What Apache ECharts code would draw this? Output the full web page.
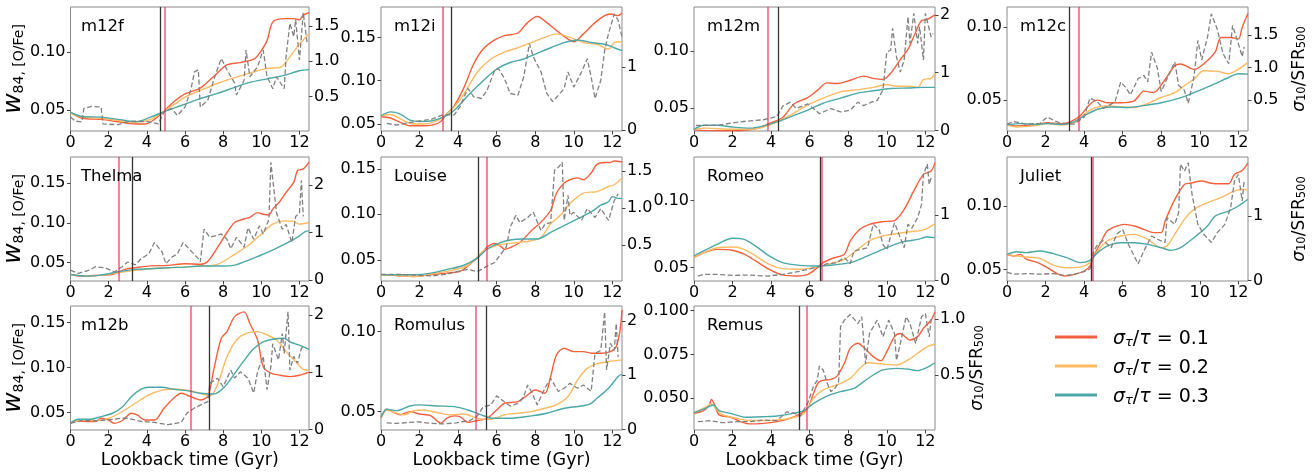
<!DOCTYPE html>
<html><head><meta charset="utf-8">
<script src="https://cdn.jsdelivr.net/npm/echarts@6/dist/echarts.min.js"></script>
<style>html,body{margin:0;padding:0;background:#fff}#c{width:1314px;height:475px}</style>
</head><body><div id="c"></div>
<script>
// ---------------- DATA ----------------
const panelNames = ['m12f','m12i','m12m','m12c','Thelma','Louise','Romeo','Juliet','m12b','Romulus','Remus'];
const xTicks = [0,2,4,6,8,10,12];
const legendLabels = ['σ_τ/τ = 0.1','σ_τ/τ = 0.2','σ_τ/τ = 0.3'];

// vertical marker lines (Gyr)
const tRed   = [4.95,3.2,3.8,3.7,2.55,5.5,6.65,4.45,6.3,4.9,5.85];
const tBlack = [4.7,3.65,4.35,3.25,3.25,5.05,6.55,4.35,7.25,5.45,5.45];

// axis ranges
const leftMin  = [0.032,0.042,0.0295,0.0285,0.027,0.0267,0.0401,0.0408,0.0307,0.0385,0.0319];
const leftMax  = [0.139,0.185,0.139,0.114,0.183,0.163,0.1322,0.1387,0.1685,0.116,0.1027];
const rightMin = [0.01,-0.015,-0.01,0.023,-0.02,0.009,-0.01,-0.005,-0.005,-0.012,0.009];
const rightMax = [1.77,1.95,2.14,1.936,2.59,1.69,1.89,1.91,2.16,2.28,1.116];

// tick labels
const leftTicks = [[0.05,0.10],[0.05,0.10,0.15],[0.05,0.10],[0.05,0.10],[0.05,0.10,0.15],[0.05,0.10,0.15],[0.05,0.10],[0.05,0.10],[0.05,0.10,0.15],[0.05,0.10],[0.050,0.075,0.100]];
const leftDec = [2,2,2,2,2,2,2,2,2,2,3];
const rightTicks = [[0.5,1.0,1.5],[0,1],[0,1,2],[0.5,1.0,1.5],[0,1,2],[0.5,1.0,1.5],[0,1],[0,1],[0,1,2],[0,1,2],[0.5,1.0]];
const rightDec = [1,0,0,1,0,1,0,0,0,0,1];

// ---- m12f ----
const m12f_s01 = [[0,0.048],[0.6,0.043],[1.6,0.042],[2.5,0.040],[3.4,0.038],[3.9,0.038],[4.4,0.042],[4.9,0.049],[5.4,0.057],[6.0,0.064],[6.8,0.069],[7.5,0.079],[8.2,0.089],[8.9,0.091],[9.6,0.094],[9.9,0.099],[10.3,0.110],[10.6,0.126],[11.2,0.129],[11.7,0.129],[12.0,0.128],[12.2,0.132],[12.5,0.134]];
const m12f_s02 = [[0,0.0475],[0.6,0.044],[1.6,0.043],[2.5,0.041],[3.4,0.0395],[4.2,0.042],[4.9,0.049],[5.4,0.0545],[6.1,0.062],[6.8,0.067],[7.7,0.073],[8.6,0.078],[9.4,0.082],[10.3,0.086],[11.0,0.087],[11.5,0.096],[12.0,0.107],[12.5,0.116]];
const m12f_s03 = [[0,0.048],[0.6,0.0445],[1.6,0.044],[2.5,0.042],[3.4,0.040],[4.2,0.044],[4.9,0.0486],[5.8,0.054],[6.8,0.060],[7.7,0.0645],[8.6,0.0696],[9.4,0.074],[10.3,0.077],[11.2,0.080],[12.0,0.084],[12.5,0.085]];
const m12f_sfr = [[0,0.21],[0.25,0.15],[0.6,0.14],[0.7,0.33],[1.1,0.36],[1.6,0.35],[1.7,0.11],[2.5,0.10],[3.0,0.14],[3.4,0.15],[4.1,0.14],[4.6,0.11],[4.9,0.28],[5.3,0.33],[5.6,0.23],[6.0,0.35],[6.3,0.59],[6.5,0.85],[6.7,0.88],[6.8,0.35],[7.2,0.45],[7.5,0.73],[7.9,1.04],[8.2,0.88],[8.6,0.69],[8.7,0.52],[9.1,0.73],[9.2,1.16],[9.4,0.78],[9.8,0.92],[10.1,1.16],[10.3,0.78],[10.6,0.61],[10.8,0.78],[11.2,0.61],[11.3,1.07],[11.5,1.54],[11.7,1.35],[11.8,1.59],[12.0,1.02],[12.2,1.69],[12.4,1.26]];

// ---- m12i ----
const m12i_s01 = [[0,0.0585],[0.5,0.057],[1.0,0.052],[1.5,0.048],[2.2,0.048],[2.7,0.049],[3.1,0.053],[3.4,0.0615],[3.8,0.071],[4.3,0.092],[4.8,0.119],[5.3,0.1365],[5.9,0.147],[6.4,0.152],[7.1,0.155],[7.6,0.167],[8.1,0.174],[8.6,0.167],[9.1,0.158],[9.7,0.148],[10.0,0.145],[10.5,0.154],[11.1,0.167],[11.6,0.175],[11.9,0.177],[12.3,0.175],[12.5,0.178]];
const m12i_s02 = [[0,0.0596],[0.5,0.061],[1.0,0.056],[1.5,0.051],[2.2,0.050],[2.7,0.052],[3.2,0.058],[3.8,0.070],[4.3,0.0846],[5.0,0.110],[5.7,0.125],[6.4,0.133],[7.1,0.138],[7.8,0.144],[8.5,0.150],[9.1,0.154],[9.8,0.150],[10.5,0.144],[11.2,0.142],[11.8,0.1365],[12.1,0.144],[12.5,0.145]];
const m12i_s03 = [[0,0.0596],[0.5,0.064],[1.0,0.0615],[1.5,0.0546],[2.0,0.053],[2.7,0.054],[3.4,0.0596],[3.9,0.068],[4.6,0.085],[5.3,0.100],[6.0,0.1135],[6.7,0.121],[7.4,0.125],[8.1,0.1315],[8.8,0.138],[9.5,0.144],[10.2,0.147],[10.9,0.144],[11.6,0.142],[12.1,0.138],[12.5,0.1346]];
const m12i_sfr = [[0.3,0.105],[0.8,0.08],[1.7,0.13],[2.6,0.17],[3.2,0.24],[3.8,0.24],[4.1,0.37],[4.5,0.66],[4.8,0.53],[5.2,0.50],[5.5,0.63],[5.9,0.95],[6.1,0.97],[6.4,0.82],[6.7,0.58],[7.1,0.55],[7.4,0.84],[7.7,1.37],[7.9,1.16],[8.3,0.92],[8.6,0.58],[8.9,0.45],[9.2,0.55],[9.5,0.66],[9.7,0.92],[10.0,0.68],[10.4,0.92],[10.7,1.13],[10.9,0.84],[11.1,0.50],[11.4,0.79],[11.6,1.26],[11.8,1.53],[12.1,1.84],[12.3,1.74],[12.5,1.47]];

// ---- m12m ----
const m12m_s01 = [[0,0.0305],[1.2,0.0297],[2.0,0.0297],[2.9,0.0305],[3.4,0.0325],[4.1,0.0375],[4.6,0.0415],[5.2,0.0535],[5.9,0.059],[6.4,0.0654],[6.9,0.072],[7.4,0.0714],[8.1,0.0743],[8.8,0.078],[9.3,0.076],[9.8,0.075],[10.2,0.0805],[10.7,0.0925],[11.1,0.1015],[11.4,0.113],[11.8,0.127],[12.1,0.128],[12.5,0.132]];
const m12m_s02 = [[0,0.031],[0.6,0.032],[2.0,0.031],[2.9,0.031],[3.6,0.033],[4.3,0.0375],[5.0,0.0435],[5.9,0.0525],[6.7,0.0585],[7.6,0.064],[8.5,0.066],[9.3,0.068],[10.0,0.0705],[10.5,0.069],[11.2,0.069],[11.6,0.068],[11.9,0.075],[12.3,0.076],[12.5,0.081]];
const m12m_s03 = [[0,0.031],[0.5,0.0346],[1.2,0.0346],[2.0,0.033],[2.9,0.032],[3.6,0.034],[4.3,0.0375],[5.0,0.042],[5.9,0.048],[6.7,0.054],[7.6,0.0585],[8.5,0.063],[9.3,0.065],[10.2,0.067],[11.1,0.0675],[11.9,0.068],[12.5,0.068]];
const m12m_sfr = [[0.1,0.087],[1.2,0.087],[2.0,0.13],[2.7,0.16],[3.6,0.185],[4.3,0.24],[4.6,0.42],[5.0,0.49],[5.3,0.38],[5.9,0.46],[6.2,0.38],[6.5,0.29],[7.1,0.38],[7.6,0.32],[8.1,0.35],[8.5,0.49],[8.8,0.43],[9.2,0.49],[9.5,0.52],[9.8,0.70],[10.0,1.36],[10.2,1.39],[10.3,1.77],[10.5,1.28],[10.7,1.01],[10.9,1.22],[11.1,1.97],[11.2,1.51],[11.4,2.03],[11.6,1.51],[11.7,1.80],[11.9,1.22],[12.0,2.03],[12.3,1.62],[12.4,1.68]];

// ---- m12c ----
const m12c_s01 = [[0,0.0327],[0.5,0.032],[1.4,0.0327],[2.1,0.0343],[2.8,0.0336],[3.3,0.035],[3.8,0.039],[4.3,0.047],[4.7,0.0498],[5.2,0.048],[5.9,0.048],[6.6,0.0493],[7.1,0.056],[7.6,0.055],[8.2,0.064],[8.7,0.0735],[9.0,0.0747],[9.7,0.071],[10.2,0.0747],[10.8,0.083],[11.1,0.093],[11.6,0.093],[12.0,0.092],[12.2,0.100],[12.5,0.1097]];
const m12c_s02 = [[0,0.0327],[0.5,0.0313],[1.4,0.032],[2.1,0.0336],[2.8,0.0327],[3.5,0.0343],[4.0,0.040],[4.5,0.0442],[5.2,0.0459],[5.9,0.045],[6.6,0.0447],[7.3,0.0475],[8.0,0.0516],[8.7,0.055],[9.2,0.0597],[9.7,0.0643],[10.2,0.070],[10.9,0.0696],[11.5,0.068],[12.0,0.071],[12.5,0.0758]];
const m12c_s03 = [[0,0.0327],[0.7,0.0336],[1.4,0.033],[2.1,0.0336],[2.8,0.033],[3.5,0.035],[4.0,0.039],[4.7,0.0435],[5.4,0.045],[6.3,0.0447],[7.1,0.046],[8.0,0.048],[8.9,0.051],[9.7,0.055],[10.6,0.060],[11.5,0.0654],[12.0,0.068],[12.5,0.0677]];
const m12c_sfr = [[0,0.13],[0.35,0.17],[1.0,0.13],[1.7,0.14],[2.1,0.24],[2.4,0.19],[2.8,0.14],[3.5,0.13],[4.0,0.24],[4.3,0.53],[4.7,0.47],[5.0,0.37],[5.6,0.47],[5.9,0.78],[6.2,0.68],[6.4,0.58],[6.8,0.83],[7.1,0.88],[7.3,0.78],[7.5,1.24],[7.8,0.99],[8.0,0.63],[8.3,0.83],[8.7,1.09],[8.9,0.73],[9.2,0.65],[9.4,0.45],[9.7,0.86],[9.9,1.42],[10.1,1.12],[10.4,1.47],[10.6,1.83],[10.9,1.60],[11.2,1.22],[11.5,1.06],[11.7,1.65],[12.0,1.37],[12.2,1.17],[12.3,1.32]];

// ---- Thelma ----
const thelma_s01 = [[0,0.0352],[0.6,0.0331],[1.6,0.0344],[2.2,0.035],[2.5,0.038],[2.9,0.042],[3.4,0.0437],[4.2,0.046],[5.1,0.0466],[6.0,0.0487],[6.8,0.048],[7.2,0.052],[7.7,0.069],[8.2,0.088],[8.6,0.1006],[9.1,0.105],[9.4,0.107],[9.8,0.113],[10.1,0.111],[10.4,0.110],[10.6,0.1175],[11.0,0.128],[11.3,0.1386],[11.7,0.151],[11.9,0.166],[12.2,0.168],[12.5,0.1765]];
const thelma_s02 = [[0,0.0352],[0.8,0.0331],[1.6,0.0344],[2.5,0.0373],[3.4,0.0403],[4.2,0.0424],[5.1,0.0437],[6.0,0.0445],[6.8,0.0458],[7.7,0.048],[8.6,0.0605],[9.4,0.0732],[10.1,0.088],[10.6,0.0985],[11.2,0.1027],[11.7,0.102],[12.0,0.0985],[12.5,0.1006]];
const thelma_s03 = [[0,0.0352],[0.8,0.0331],[1.6,0.0344],[2.5,0.0386],[3.4,0.0416],[4.2,0.0424],[5.1,0.0437],[6.0,0.0445],[6.8,0.0458],[7.7,0.0458],[8.6,0.047],[9.4,0.054],[10.3,0.0627],[11.2,0.0732],[11.7,0.0795],[12.0,0.0838],[12.3,0.0892],[12.5,0.090]];
const thelma_sfr = [[0,0.21],[0.4,0.14],[1.0,0.21],[1.3,0.28],[1.8,0.26],[2.3,0.17],[2.7,0.28],[3.0,0.38],[3.4,0.32],[3.7,0.45],[4.1,0.55],[4.4,0.79],[4.8,0.59],[5.0,0.34],[5.3,0.48],[5.6,0.55],[5.9,0.79],[6.3,0.62],[6.7,0.45],[6.8,0.38],[7.0,1.07],[7.3,0.90],[7.9,0.97],[8.2,0.86],[8.4,0.66],[8.7,0.90],[9.1,0.69],[9.3,1.10],[9.6,0.86],[9.9,1.14],[10.1,0.97],[10.4,1.28],[10.5,2.48],[10.8,1.41],[11.1,1.07],[11.3,1.17],[11.6,0.79],[11.8,1.34],[12.0,1.41],[12.1,2.10],[12.2,1.34]];

// ---- Louise ----
const louise_s01 = [[0,0.0336],[0.8,0.0328],[1.7,0.0317],[2.6,0.0336],[3.4,0.0354],[4.1,0.0373],[4.6,0.0448],[5.2,0.056],[5.5,0.064],[5.9,0.068],[6.2,0.065],[6.4,0.0616],[6.7,0.0634],[7.2,0.069],[7.8,0.082],[8.3,0.0914],[8.8,0.1045],[9.1,0.1232],[9.5,0.1343],[9.8,0.138],[10.2,0.140],[10.5,0.138],[10.9,0.1455],[11.2,0.1549],[11.6,0.157],[11.9,0.157],[12.1,0.1586],[12.5,0.1575]];
const louise_s02 = [[0,0.0336],[0.8,0.0328],[1.7,0.0317],[2.6,0.0343],[3.4,0.0373],[4.3,0.0418],[4.8,0.0485],[5.3,0.0597],[5.9,0.065],[6.4,0.0672],[7.1,0.069],[7.8,0.071],[8.3,0.0746],[8.8,0.0896],[9.3,0.099],[9.8,0.112],[10.5,0.1232],[11.2,0.125],[11.8,0.1306],[12.1,0.1325],[12.5,0.140]];
const louise_s03 = [[0,0.0336],[1.7,0.0336],[2.6,0.0354],[3.4,0.0392],[4.3,0.044],[5.0,0.0522],[5.5,0.0616],[6.0,0.0672],[6.7,0.0717],[7.4,0.0728],[8.1,0.0728],[8.8,0.0802],[9.5,0.0877],[10.2,0.0951],[10.9,0.1026],[11.4,0.110],[11.8,0.1138],[12.0,0.1194],[12.3,0.1175],[12.5,0.1175]];
const louise_sfr = [[0,0.10],[0.8,0.10],[1.7,0.09],[2.6,0.077],[3.4,0.10],[3.9,0.136],[4.5,0.168],[5.0,0.136],[5.5,0.21],[5.9,0.26],[6.2,0.37],[6.5,0.47],[6.7,0.74],[7.0,0.90],[7.2,0.80],[7.6,0.87],[7.9,0.94],[8.3,0.69],[8.5,0.78],[8.8,0.80],[9.0,1.51],[9.2,1.55],[9.4,1.62],[9.5,0.83],[9.7,1.17],[9.8,0.90],[10.0,0.94],[10.4,0.83],[10.7,0.99],[11.1,0.87],[11.4,0.99],[11.8,0.83],[12.1,1.10],[12.3,1.19]];

// ---- Romeo ----
const romeo_s01 = [[0,0.0574],[0.5,0.061],[1.2,0.0636],[2.0,0.0629],[2.6,0.060],[3.2,0.055],[3.9,0.0488],[4.6,0.0446],[5.3,0.0438],[5.9,0.045],[6.4,0.050],[6.7,0.0537],[7.2,0.057],[7.8,0.060],[8.1,0.0698],[8.6,0.0785],[9.1,0.0822],[9.8,0.0842],[10.4,0.085],[10.9,0.0933],[11.4,0.107],[11.9,0.1193],[12.3,0.1218],[12.5,0.128]];
const romeo_s02 = [[0,0.0574],[0.5,0.061],[1.2,0.0648],[2.0,0.0653],[2.6,0.0636],[3.2,0.0587],[3.9,0.0525],[4.6,0.0493],[5.5,0.0488],[6.4,0.0505],[7.1,0.053],[7.8,0.0562],[8.5,0.0636],[9.1,0.070],[9.8,0.0735],[10.5,0.0752],[11.2,0.0767],[11.8,0.0777],[12.1,0.0792],[12.5,0.0827]];
const romeo_s03 = [[0,0.0587],[0.5,0.0624],[1.2,0.0673],[2.0,0.0718],[2.6,0.071],[3.2,0.066],[3.9,0.0587],[4.6,0.0537],[5.5,0.0517],[6.4,0.0512],[7.2,0.052],[8.1,0.0537],[9.0,0.0587],[9.8,0.0636],[10.7,0.0686],[11.6,0.071],[12.1,0.0728],[12.5,0.0723]];
const romeo_sfr = [[0.2,0.066],[0.5,0.09],[1.2,0.09],[2.0,0.077],[2.9,0.08],[3.8,0.066],[4.6,0.09],[5.5,0.14],[6.4,0.20],[6.9,0.255],[7.4,0.27],[7.8,0.35],[8.1,0.255],[8.3,0.45],[8.6,0.47],[9.0,0.50],[9.3,0.86],[9.6,0.78],[9.8,0.55],[10.0,0.47],[10.4,0.88],[10.6,0.73],[10.9,0.50],[11.1,0.86],[11.3,0.80],[11.6,0.96],[11.8,1.16],[11.9,1.62],[12.1,1.78],[12.2,1.47],[12.3,1.57]];

// ---- Juliet ----
const juliet_s01 = [[0,0.0618],[0.35,0.0605],[0.7,0.0618],[1.0,0.058],[1.6,0.0553],[2.1,0.0513],[2.6,0.0466],[3.0,0.0447],[3.5,0.046],[4.0,0.0487],[4.3,0.0526],[4.5,0.0605],[4.9,0.0724],[5.2,0.0803],[5.7,0.0842],[6.1,0.0855],[6.6,0.0842],[7.1,0.0816],[7.6,0.079],[8.0,0.079],[8.2,0.088],[8.7,0.105],[9.2,0.117],[9.5,0.118],[10.1,0.1197],[10.6,0.118],[11.1,0.1176],[11.5,0.1176],[11.8,0.125],[12.2,0.128],[12.5,0.134]];
const juliet_s02 = [[0,0.0618],[0.5,0.0605],[1.0,0.0597],[1.7,0.0587],[2.4,0.0534],[3.1,0.0513],[3.8,0.0518],[4.3,0.0553],[4.7,0.0645],[5.2,0.0724],[5.9,0.0763],[6.6,0.0776],[7.3,0.0737],[8.0,0.0671],[8.3,0.0684],[8.7,0.0776],[9.2,0.0895],[9.7,0.0974],[10.4,0.1026],[11.1,0.1066],[11.6,0.1105],[12.2,0.1132],[12.5,0.1124]];
const juliet_s03 = [[0,0.0618],[0.5,0.0639],[1.0,0.0632],[1.7,0.0645],[2.4,0.0624],[3.1,0.0592],[3.8,0.0553],[4.3,0.0571],[4.7,0.0632],[5.2,0.0684],[5.9,0.071],[6.6,0.071],[7.3,0.0697],[8.0,0.0671],[8.5,0.065],[9.0,0.0671],[9.7,0.075],[10.4,0.0842],[10.8,0.0921],[11.5,0.096],[12.0,0.100],[12.5,0.1053]];
const juliet_sfr = [[0,0.13],[0.35,0.10],[1.0,0.11],[1.7,0.10],[2.4,0.11],[3.0,0.08],[3.5,0.10],[4.0,0.14],[4.3,0.18],[4.5,0.46],[4.7,0.56],[5.0,0.62],[5.4,0.51],[5.7,0.72],[6.0,0.79],[6.3,0.56],[6.5,0.44],[6.8,0.26],[7.1,0.46],[7.5,0.69],[7.8,0.64],[8.2,0.59],[8.3,0.97],[8.7,0.87],[8.9,1.05],[9.0,1.80],[9.2,1.69],[9.4,1.82],[9.6,1.33],[9.9,0.87],[10.2,0.72],[10.6,0.59],[10.9,0.74],[11.3,0.87],[11.6,1.13],[11.8,1.54],[12.0,1.64],[12.2,1.23],[12.3,1.54]];

// ---- m12b ----
const m12b_s01 = [[0,0.0381],[0.25,0.041],[0.8,0.040],[1.3,0.040],[1.6,0.0437],[2.0,0.0418],[2.3,0.0381],[2.7,0.041],[3.2,0.0493],[3.5,0.0474],[3.9,0.0418],[4.4,0.0418],[4.9,0.0548],[5.4,0.066],[5.8,0.0715],[6.1,0.0696],[6.5,0.066],[6.8,0.064],[7.2,0.0685],[7.5,0.097],[7.9,0.1326],[8.2,0.140],[8.6,0.1567],[9.1,0.162],[9.4,0.149],[9.8,0.131],[10.1,0.101],[10.5,0.094],[11.0,0.0915],[11.5,0.090],[12.0,0.0915],[12.5,0.095]];
const m12b_s02 = [[0,0.0381],[0.6,0.0418],[1.3,0.041],[2.0,0.0437],[2.7,0.051],[3.4,0.0604],[4.1,0.0696],[4.8,0.075],[5.4,0.076],[6.1,0.075],[6.8,0.0715],[7.3,0.0685],[7.7,0.081],[8.2,0.112],[8.7,0.1307],[9.2,0.138],[9.8,0.140],[10.3,0.1363],[10.8,0.1307],[11.3,0.1178],[11.8,0.1067],[12.2,0.098],[12.5,0.097]];
const m12b_s03 = [[0,0.0381],[0.4,0.0426],[1.0,0.0426],[1.6,0.0455],[2.2,0.0493],[2.7,0.056],[3.2,0.0678],[3.7,0.076],[4.1,0.0782],[4.8,0.0782],[5.4,0.076],[6.1,0.0745],[6.8,0.0715],[7.5,0.0707],[8.0,0.077],[8.6,0.0933],[9.1,0.108],[9.6,0.121],[10.1,0.1285],[10.6,0.1315],[11.2,0.1326],[11.5,0.1285],[12.0,0.125],[12.5,0.1204]];
const m12b_sfr = [[0,0.116],[0.6,0.157],[1.3,0.157],[2.0,0.174],[2.7,0.20],[3.0,0.20],[3.7,0.145],[4.4,0.128],[5.1,0.087],[5.8,0.128],[6.1,0.29],[6.5,0.38],[6.8,0.43],[7.2,0.49],[7.3,0.81],[7.7,0.90],[8.0,0.75],[8.4,1.04],[8.6,0.90],[8.9,1.01],[9.3,0.90],[9.6,0.64],[9.8,1.01],[10.1,1.28],[10.3,0.70],[10.5,1.10],[10.6,1.50],[10.9,1.22],[11.1,1.68],[11.2,1.33],[11.4,2.06],[11.5,1.04],[11.7,1.28],[11.9,1.16],[12.1,1.42],[12.2,1.45]];

// ---- Romulus ----
const romulus_s01 = [[0,0.0458],[0.3,0.0515],[0.6,0.050],[1.0,0.048],[1.5,0.050],[2.0,0.0485],[2.6,0.0473],[3.1,0.0427],[3.4,0.0458],[3.8,0.0473],[4.1,0.0469],[4.5,0.0433],[5.0,0.0444],[5.5,0.0458],[6.0,0.051],[6.4,0.0552],[7.1,0.0562],[7.6,0.0604],[8.0,0.0635],[8.5,0.0615],[8.8,0.0719],[9.1,0.0854],[9.5,0.0896],[10.0,0.0875],[10.5,0.0875],[10.9,0.0865],[11.4,0.0865],[11.9,0.0875],[12.2,0.0906],[12.4,0.101],[12.5,0.1135]];
const romulus_s02 = [[0,0.0458],[0.3,0.051],[0.6,0.050],[1.2,0.048],[1.7,0.0506],[2.2,0.051],[2.9,0.0494],[3.6,0.048],[4.3,0.0485],[5.0,0.0458],[5.7,0.0452],[6.4,0.048],[7.1,0.049],[7.8,0.050],[8.5,0.0521],[9.1,0.0542],[9.7,0.0594],[10.2,0.0698],[10.7,0.077],[11.2,0.0798],[11.8,0.0813],[12.5,0.0823]];
const romulus_s03 = [[0,0.0465],[0.3,0.0515],[0.8,0.0506],[1.5,0.0535],[2.0,0.0542],[2.9,0.0535],[3.8,0.0531],[4.5,0.051],[5.2,0.048],[5.8,0.0458],[6.7,0.0458],[7.8,0.0473],[8.6,0.049],[9.5,0.0521],[10.4,0.0535],[10.9,0.0552],[11.2,0.0583],[11.8,0.0646],[12.3,0.0719],[12.5,0.0735]];
const romulus_sfr = [[0.3,0.12],[0.8,0.11],[1.9,0.14],[2.6,0.11],[3.2,0.10],[3.9,0.12],[4.6,0.16],[5.0,0.25],[5.3,0.42],[5.7,0.45],[6.0,0.62],[6.4,0.51],[6.7,0.43],[7.1,0.48],[7.4,0.60],[7.6,0.82],[7.8,0.70],[8.1,0.45],[8.5,0.76],[8.8,0.94],[9.2,0.70],[9.5,0.76],[9.8,0.85],[10.2,0.76],[10.5,0.82],[10.9,0.70],[11.1,1.40],[11.4,1.46],[11.6,2.17],[11.7,1.10],[11.9,1.59],[12.1,1.46],[12.2,1.96],[12.3,1.34]];

// ---- Remus ----
const remus_s01 = [[0,0.0414],[0.5,0.043],[0.8,0.0462],[0.9,0.0494],[1.1,0.0456],[1.3,0.0405],[1.9,0.0392],[2.4,0.0367],[2.9,0.0354],[3.6,0.0357],[4.3,0.0367],[5.0,0.0386],[5.5,0.0411],[5.9,0.0443],[6.2,0.0529],[6.5,0.0595],[7.1,0.0608],[7.4,0.0624],[7.8,0.070],[8.1,0.0785],[8.5,0.0814],[8.8,0.0791],[9.3,0.0738],[9.7,0.0715],[10.0,0.0766],[10.4,0.0852],[10.7,0.087],[11.2,0.0833],[11.6,0.0852],[11.9,0.090],[12.3,0.0947],[12.5,0.0994]];
const remus_s02 = [[0,0.0418],[0.6,0.0449],[0.9,0.0468],[1.2,0.0433],[1.5,0.0405],[2.2,0.0386],[2.9,0.0373],[3.6,0.0373],[4.3,0.0376],[5.0,0.0386],[5.7,0.0414],[6.2,0.050],[6.7,0.0548],[7.4,0.0576],[8.1,0.0614],[8.6,0.0671],[9.0,0.0703],[9.8,0.0696],[10.5,0.069],[11.1,0.0719],[11.6,0.0757],[12.1,0.0795],[12.5,0.081]];
const remus_s03 = [[0,0.0418],[0.6,0.0443],[1.0,0.0462],[1.3,0.043],[1.9,0.0414],[2.7,0.0392],[3.6,0.0395],[4.3,0.0399],[5.0,0.0411],[5.7,0.043],[6.2,0.0471],[6.9,0.0513],[7.6,0.0538],[8.3,0.0557],[8.8,0.0595],[9.3,0.0633],[9.8,0.0662],[10.5,0.0671],[11.2,0.0665],[11.6,0.0658],[12.1,0.0677],[12.5,0.0703]];
const remus_sfr = [[0.2,0.083],[0.8,0.092],[1.5,0.074],[2.2,0.083],[2.9,0.083],[3.6,0.098],[4.3,0.092],[4.8,0.17],[5.2,0.16],[5.5,0.13],[5.9,0.25],[6.2,0.40],[6.4,0.455],[6.5,0.58],[6.7,0.545],[6.9,0.43],[7.1,0.35],[7.3,0.38],[7.5,0.43],[7.6,0.93],[7.8,0.99],[8.1,1.04],[8.5,0.96],[8.7,1.02],[8.9,0.60],[9.1,0.87],[9.5,0.99],[9.8,0.84],[10.1,0.99],[10.4,0.87],[10.5,0.63],[10.7,0.78],[11.0,1.02],[11.2,0.96],[11.5,0.78],[11.8,1.02],[12.0,1.05],[12.2,0.84],[12.3,1.00]];

const seriesData = [
  [m12f_s01,m12f_s02,m12f_s03,m12f_sfr],
  [m12i_s01,m12i_s02,m12i_s03,m12i_sfr],
  [m12m_s01,m12m_s02,m12m_s03,m12m_sfr],
  [m12c_s01,m12c_s02,m12c_s03,m12c_sfr],
  [thelma_s01,thelma_s02,thelma_s03,thelma_sfr],
  [louise_s01,louise_s02,louise_s03,louise_sfr],
  [romeo_s01,romeo_s02,romeo_s03,romeo_sfr],
  [juliet_s01,juliet_s02,juliet_s03,juliet_sfr],
  [m12b_s01,m12b_s02,m12b_s03,m12b_sfr],
  [romulus_s01,romulus_s02,romulus_s03,romulus_sfr],
  [remus_s01,remus_s02,remus_s03,remus_sfr]
];

// ---------------- STYLE / LAYOUT ----------------
const FONT = 'DejaVu Sans';
const lineColors = ['#f4603c','#fdbb63','#4ba8a6'];
const colLeft = [68,381,694,1007];
const rowTop = [7,157,306];
const W = 241, H = 124;
const frame = '#8a8a8a';

const grids = [], xAxes = [], yAxes = [], series = [], titles = [];
panelNames.forEach((nm, i) => {
  const r = Math.floor(i / 4), c = i % 4;
  grids.push({left: colLeft[c], top: rowTop[r], width: W, height: H, show: true, borderColor: frame, borderWidth: 1, backgroundColor: 'transparent'});
  titles.push({text: nm, left: colLeft[c] + 13, top: rowTop[r] + 11, padding: 0,
    textStyle: {fontFamily: FONT, fontSize: 16.5, fontWeight: 'normal', color: '#000'}});
  xAxes.push({
    type: 'value', gridIndex: i, min: 0, max: 12.5,
    axisLine: {show: false, onZero: false},
    axisTick: {show: true, length: 3.5, customValues: xTicks, lineStyle: {color: '#444'}},
    axisLabel: {customValues: xTicks, fontFamily: FONT, fontSize: 16, color: '#000', margin: 4},
    splitLine: {show: false},
    name: r === 2 ? 'Lookback time (Gyr)' : '',
    nameLocation: 'middle', nameGap: 21,
    nameTextStyle: {fontFamily: FONT, fontSize: 17.5, color: '#000'}
  });
  const leftName = (c === 0) ? '{w|w}{s|84, [O/Fe]}' : '';
  yAxes.push({
    type: 'value', gridIndex: i, position: 'left', min: leftMin[i], max: leftMax[i],
    axisLine: {show: false},
    axisTick: {show: true, length: 3.5, customValues: leftTicks[i], lineStyle: {color: '#444'}},
    axisLabel: {customValues: leftTicks[i], formatter: v => v.toFixed(leftDec[i]), fontFamily: FONT, fontSize: 16, color: '#000', margin: 5},
    splitLine: {show: false},
    name: leftName, nameLocation: 'middle', nameGap: 37, nameRotate: 90,
    nameTextStyle: {rich: {
      w: {fontFamily: FONT, fontStyle: 'italic', fontSize: 25, color: '#000', verticalAlign: 'bottom', lineHeight: 28},
      s: {fontFamily: FONT, fontSize: 14, color: '#000', verticalAlign: 'bottom', lineHeight: 12}
    }}
  });
  const rightName = (i === 3 || i === 7 || i === 10) ? '{i|σ}{s|10}{n|/SFR}{s|500}' : '';
  yAxes.push({
    type: 'value', gridIndex: i, position: 'right', min: rightMin[i], max: rightMax[i],
    axisLine: {show: false},
    axisTick: {show: true, length: 3.5, customValues: rightTicks[i], lineStyle: {color: '#444'}},
    axisLabel: {customValues: rightTicks[i], formatter: v => v.toFixed(rightDec[i]), fontFamily: FONT, fontSize: 16, color: '#000', margin: 5},
    splitLine: {show: false},
    name: rightName, nameLocation: 'middle', nameGap: (i === 10 ? 29 : 38), nameRotate: 90,
    nameTextStyle: {rich: {
      i: {fontFamily: FONT, fontStyle: 'italic', fontSize: 17, color: '#000', verticalAlign: 'bottom', lineHeight: 22},
      n: {fontFamily: FONT, fontSize: 17, color: '#000', verticalAlign: 'bottom', lineHeight: 22},
      s: {fontFamily: FONT, fontSize: 11.5, color: '#000', verticalAlign: 'bottom', lineHeight: 9}
    }}
  });
  const d = seriesData[i];
  for (let k = 0; k < 3; k++) {
    const s = {
      name: ['a','b','c'][k], type: 'line', xAxisIndex: i, yAxisIndex: 2 * i, data: d[k],
      showSymbol: false, smooth: 0.3, lineStyle: {width: 1.4, color: lineColors[k]}, itemStyle: {color: lineColors[k]},
      z: 3
    };
    if (k === 0) {
      s.markLine = {silent: true, symbol: ['none','none'], label: {show: false}, animation: false,
        data: [
          {xAxis: tBlack[i], lineStyle: {color: '#333', width: 1.3, type: 'solid'}},
          {xAxis: tRed[i], lineStyle: {color: 'rgba(225,40,80,0.75)', width: 1.5, type: 'solid'}}
        ]};
    }
    series.push(s);
  }
  series.push({
    name: 'sfr', type: 'line', xAxisIndex: i, yAxisIndex: 2 * i + 1, data: d[3],
    showSymbol: false, lineStyle: {width: 1.3, color: '#808080', type: [5, 2.5]}, z: 4
  });
});

const chart = echarts.init(document.getElementById('c'), null, {renderer: 'canvas'});
chart.setOption({
  animation: false,
  backgroundColor: '#fff',
  textStyle: {fontFamily: FONT},
  title: titles,
  grid: grids, xAxis: xAxes, yAxis: yAxes, series: series,
  legend: {
    data: ['a','b','c'], orient: 'vertical', left: 1050, top: 325,
    itemWidth: 42, itemHeight: 3, icon: 'rect', itemGap: 10,
    formatter: n => {
      const v = legendLabels[['a','b','c'].indexOf(n)].split(' = ')[1];
      return '{i0|σ}{s|τ}{n|/}{i|τ}{n| = ' + v + '}';
    },
    textStyle: {rich: {
      i0: {fontFamily: FONT, fontStyle: 'italic', fontSize: 19, color: '#000', verticalAlign: 'bottom', lineHeight: 24, padding: [0,0,0,11]},
      i: {fontFamily: FONT, fontStyle: 'italic', fontSize: 19, color: '#000', verticalAlign: 'bottom', lineHeight: 24},
      n: {fontFamily: FONT, fontSize: 19, color: '#000', verticalAlign: 'bottom', lineHeight: 24},
      s: {fontFamily: FONT, fontStyle: 'italic', fontSize: 13, color: '#000', verticalAlign: 'bottom', lineHeight: 9}
    }}
  }
});
</script></body></html>
